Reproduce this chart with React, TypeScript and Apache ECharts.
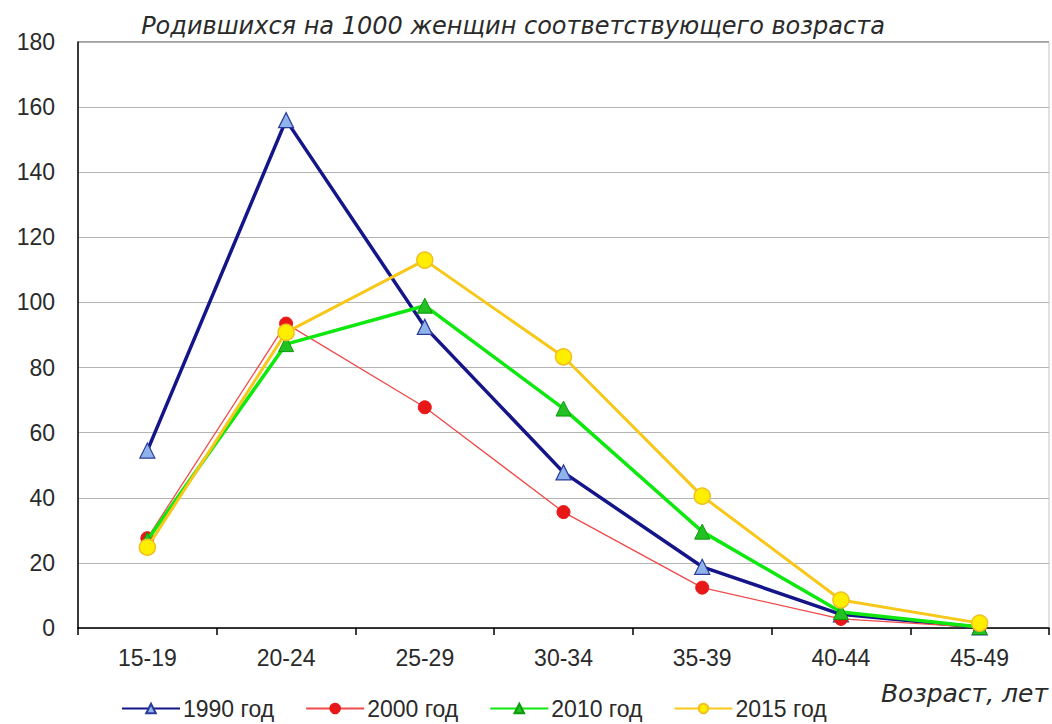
import React, { useEffect, useRef } from "react";
import * as echarts from "echarts";

const categories = ["15-19", "20-24", "25-29", "30-34", "35-39", "40-44", "45-49"];
const yearLabels = ["1990 год", "2000 год", "2010 год", "2015 год"];
const values1990 = [54.5, 156, 92.5, 47.8, 18.8, 4.2, 0.2];
const values2000 = [27.6, 93.5, 67.8, 35.6, 12.4, 2.8, 0.2];
const values2010 = [27, 87.2, 99, 67.4, 29.6, 4.9, 0.3];
const values2015 = [24.8, 90.8, 113, 83.3, 40.5, 8.6, 1.5];
const yTicks = { min: 0, max: 180, interval: 20 };
const titleText = "Родившихся на 1000 женщин соответствующего возраста";
const xAxisTitle = "Возраст, лет";

export default function App() {
  const ref = useRef<HTMLDivElement>(null);
  useEffect(() => {
    if (!ref.current) return;
    const chart = echarts.init(ref.current, null, { renderer: "svg" });
    const font = "Liberation Sans";
    const italicFont = "DejaVu Sans";
    chart.setOption({
      animation: false,
      backgroundColor: "#ffffff",
      textStyle: { fontFamily: font },
      grid: {
        left: 78,
        right: 3,
        top: 42,
        bottom: 96,
        show: true,
        borderColor: "#c4c4c4",
        borderWidth: 1,
        backgroundColor: "#ffffff",
      },
      graphic: [
        {
          type: "text",
          x: 513,
          y: 26,
          style: {
            text: titleText,
            fontFamily: italicFont,
            fontStyle: "italic",
            fontSize: 24,
            fill: "#2a2a2a",
            align: "center",
            verticalAlign: "middle",
          },
        },
        {
          type: "line",
          shape: { x1: 78, y1: 42, x2: 1049, y2: 42 },
          style: { stroke: "#8a8a8a", lineWidth: 1.5 },
        },
        {
          type: "text",
          x: 1048,
          y: 693,
          style: {
            text: xAxisTitle,
            fontFamily: italicFont,
            fontStyle: "italic",
            fontSize: 25,
            fill: "#2a2a2a",
            align: "right",
            verticalAlign: "middle",
          },
        },
      ],
      legend: {
        left: 116,
        top: 692,
        itemWidth: 58,
        itemHeight: 12,
        itemGap: 31,
        textStyle: { fontSize: 23, color: "#2a2a2a", fontFamily: font, padding: [0, 0, 0, -2] },
        data: yearLabels,
      },
      xAxis: {
        type: "category",
        data: categories,
        boundaryGap: true,
        axisLine: { lineStyle: { color: "#000", width: 1.5 } },
        axisTick: { show: true, inside: false, length: 7, lineStyle: { color: "#000", width: 1.5 } },
        axisLabel: { fontSize: 23, color: "#2a2a2a", margin: 18, fontFamily: font },
        splitLine: { show: false },
      },
      yAxis: {
        type: "value",
        min: yTicks.min,
        max: yTicks.max,
        interval: yTicks.interval,
        axisLine: { show: true, lineStyle: { color: "#000", width: 1.5 } },
        axisTick: { show: false },
        axisLabel: { fontSize: 23, color: "#2a2a2a", margin: 23, fontFamily: font },
        splitLine: { show: true, lineStyle: { color: "#b4b4b4", width: 1.2 } },
      },
      series: [
        {
          name: yearLabels[0],
          type: "line",
          data: values1990,
          symbol: "triangle",
          symbolSize: 15,
          lineStyle: { color: "#15158a", width: 3.5 },
          itemStyle: { color: "#8fb4ec", borderColor: "#2a3a9a", borderWidth: 1.2 },
          z: 2,
        },
        {
          name: yearLabels[1],
          type: "line",
          data: values2000,
          symbol: "circle",
          symbolSize: 13,
          lineStyle: { color: "#f04a4a", width: 1.3 },
          itemStyle: { color: "#e81818", borderColor: "#e81818", borderWidth: 1 },
          z: 3,
        },
        {
          name: yearLabels[2],
          type: "line",
          data: values2010,
          symbol: "triangle",
          symbolSize: 15,
          lineStyle: { color: "#0ee80e", width: 3.5 },
          itemStyle: { color: "#22c022", borderColor: "#0a9a0a", borderWidth: 1 },
          z: 4,
        },
        {
          name: yearLabels[3],
          type: "line",
          data: values2015,
          symbol: "circle",
          symbolSize: 16,
          lineStyle: { color: "#f7c81a", width: 3 },
          itemStyle: { color: "#ffee00", borderColor: "#f0c020", borderWidth: 1.5 },
          z: 5,
        },
      ],
    });
    return () => chart.dispose();
  }, []);
  return (
    <div
      ref={ref}
      style={{ position: "absolute", left: 0, top: 0, width: 1052, height: 724 }}
    />
  );
}
